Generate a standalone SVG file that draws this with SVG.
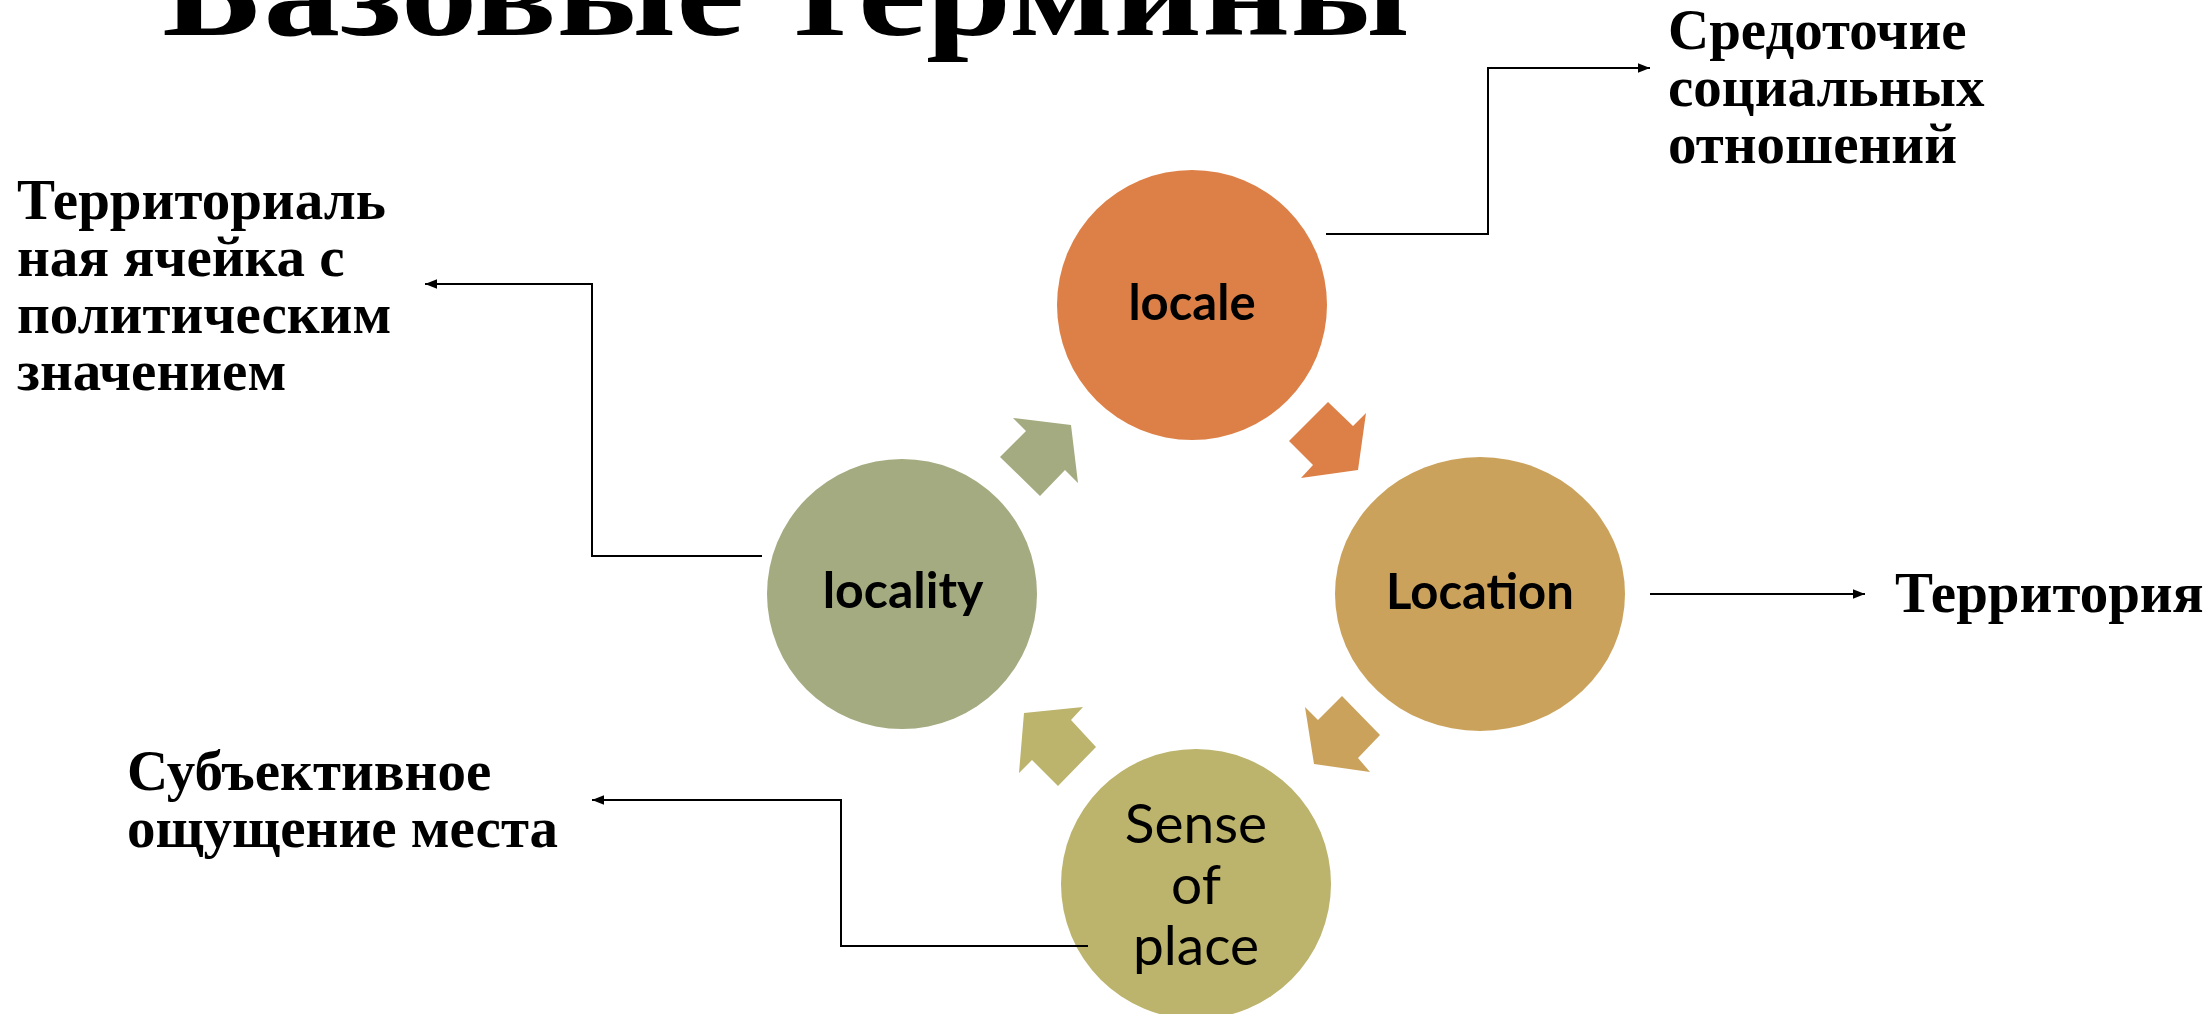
<svg xmlns="http://www.w3.org/2000/svg" width="2212" height="1014" viewBox="0 0 2212 1014">
  <style>
    .lbl { font-family: "Liberation Serif", "Times New Roman", serif; font-weight: bold; font-size: 57px; fill: #000; }
    .title { font-family: "Liberation Serif", "Times New Roman", serif; font-weight: bold; font-size: 128px; fill: #000; }
    .node { font-family: Lato, "Open Sans", sans-serif; font-size: 49px; fill: #000; text-anchor: middle; }
    .b { font-weight: bold; }
    .conn { fill: none; stroke: #000; stroke-width: 2; }
  </style>
  <defs>
    <marker id="ah" viewBox="0 0 10 10" refX="10" refY="5" markerWidth="6" markerHeight="6" markerUnits="strokeWidth" orient="auto">
      <path d="M0,1 L10,5 L0,9 Z" fill="#000"/>
    </marker>
  </defs>
  <rect width="2212" height="1014" fill="#fff"/>

  <text class="title" x="162" y="35" textLength="1248" lengthAdjust="spacingAndGlyphs">Базовые термины</text>

  <g id="cycle-arrows">
    <polygon fill="#DD8047" points="1328,402 1353,426 1366,413 1358,470 1301,478 1313,465 1289,441"/>
    <polygon fill="#CBA25C" points="1342,696 1380,735 1358,758 1370,772 1314,764 1305,707 1318,720"/>
    <polygon fill="#BCB36C" points="1024,713 1083,707 1071,720 1096,747 1058,786 1032,760 1019,773"/>
    <polygon fill="#A4AB80" points="1013,418 1071,425 1078,483 1065,470 1040,496 1000,457 1026,431"/>
  </g>

  <g id="node-locale">
    <ellipse cx="1192" cy="305" rx="135" ry="135" fill="#DD8047"/>
    <text class="node b" x="1192" y="320">locale</text>
  </g>
  <g id="node-location">
    <ellipse cx="1480" cy="594" rx="145" ry="137" fill="#CBA25C"/>
    <text class="node b" x="1480" y="609">Location</text>
  </g>
  <g id="node-sense">
    <ellipse cx="1196" cy="884" rx="135" ry="135" fill="#BCB36C"/>
    <text class="node" x="1196" y="843" style="font-size:55px">Sense</text>
    <text class="node" x="1196" y="904" style="font-size:55px">of</text>
    <text class="node" x="1196" y="965" style="font-size:55px">place</text>
  </g>
  <g id="node-locality">
    <ellipse cx="902" cy="594" rx="135" ry="135" fill="#A4AB80"/>
    <text class="node b" x="903" y="608" style="font-size:50px">locality</text>
  </g>

  <g id="label-social">
    <text class="lbl" x="1668" y="49">Средоточие</text>
    <text class="lbl" x="1668" y="106">социальных</text>
    <text class="lbl" x="1668" y="163">отношений</text>
  </g>
  <g id="label-territorial">
    <text class="lbl" x="17" y="219">Территориаль</text>
    <text class="lbl" x="17" y="276">ная ячейка с</text>
    <text class="lbl" x="17" y="333">политическим</text>
    <text class="lbl" x="17" y="390">значением</text>
  </g>
  <g id="label-subjective">
    <text class="lbl" x="127" y="790">Субъективное</text>
    <text class="lbl" x="127" y="847">ощущение места</text>
  </g>
  <g id="label-territory">
    <text class="lbl" x="1895" y="612">Территория</text>
  </g>

  <g id="connectors">
    <path class="conn" d="M1326,234 H1488 V68 H1650" marker-end="url(#ah)"/>
    <path class="conn" d="M762,556 H592 V284 H425" marker-end="url(#ah)"/>
    <path class="conn" d="M1650,594 H1865" marker-end="url(#ah)"/>
    <path class="conn" d="M1088,946 H841 V800 H592" marker-end="url(#ah)"/>
  </g>
</svg>
